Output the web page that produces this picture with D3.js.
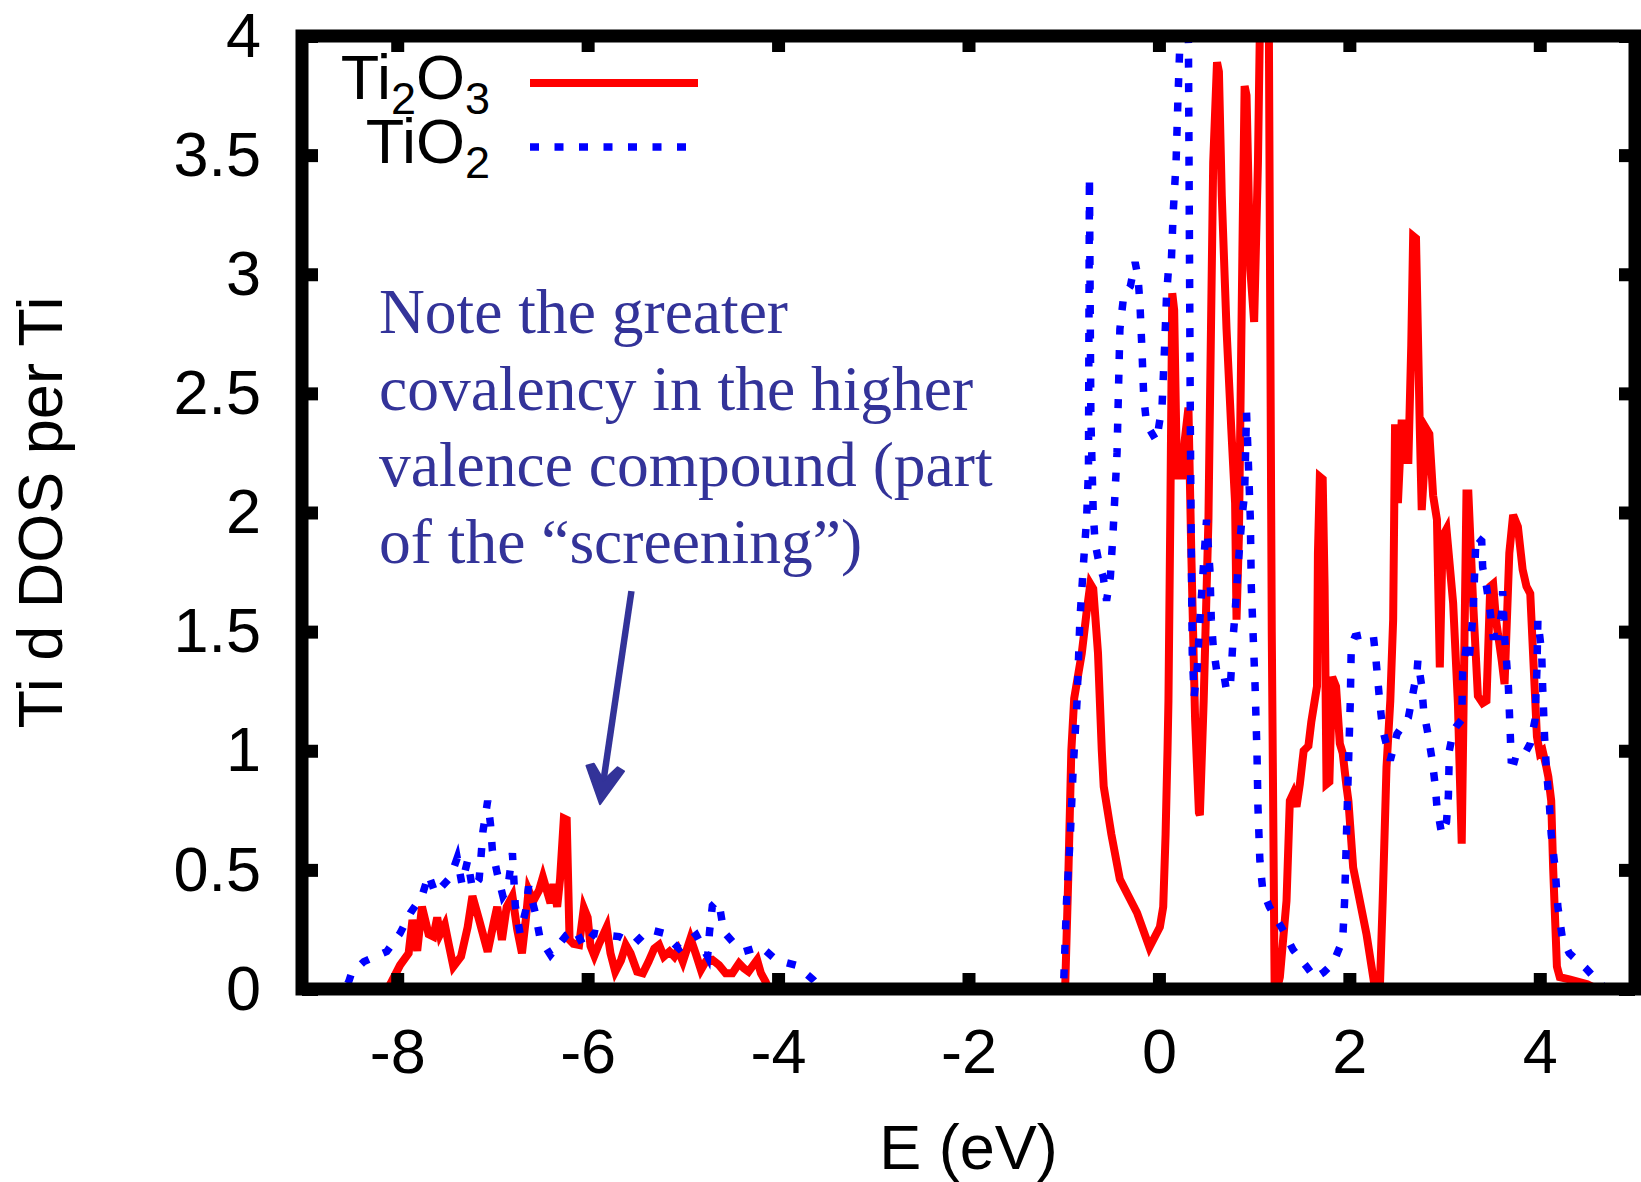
<!DOCTYPE html>
<html>
<head>
<meta charset="utf-8">
<script src="https://cdn.jsdelivr.net/npm/d3@7"></script>
<style>
  html, body { margin: 0; padding: 0; background: #fff; }
  svg { display: block; }
</style>
</head>
<body>
<div id="chart"></div>
<script>
// Ti d DOS per Ti: [E (eV), DOS]
const ti2o3Valence = [
  [-9, 0], [-8.1, 0], [-8.06, 0.03], [-7.97, 0.10], [-7.88, 0.15], [-7.84, 0.29], [-7.79, 0.16],
  [-7.74, 0.345], [-7.67, 0.23], [-7.62, 0.22], [-7.58, 0.30], [-7.55, 0.23], [-7.50, 0.27],
  [-7.46, 0.19], [-7.41, 0.094], [-7.33, 0.136], [-7.26, 0.26], [-7.21, 0.39], [-7.14, 0.29],
  [-7.05, 0.157], [-6.98, 0.29], [-6.95, 0.345], [-6.90, 0.206], [-6.85, 0.345], [-6.79, 0.39],
  [-6.74, 0.25], [-6.69, 0.15], [-6.65, 0.29], [-6.62, 0.415], [-6.57, 0.37], [-6.51, 0.415],
  [-6.47, 0.47], [-6.43, 0.415], [-6.39, 0.36], [-6.36, 0.44], [-6.32, 0.345], [-6.29, 0.46],
  [-6.25, 0.716], [-6.22, 0.71], [-6.19, 0.206], [-6.15, 0.19], [-6.09, 0.185], [-6.04, 0.34],
  [-6.00, 0.30], [-5.97, 0.18], [-5.93, 0.14], [-5.88, 0.19], [-5.80, 0.26], [-5.76, 0.15],
  [-5.71, 0.073], [-5.65, 0.12], [-5.60, 0.185], [-5.55, 0.15], [-5.48, 0.073], [-5.42, 0.066],
  [-5.36, 0.115], [-5.30, 0.17], [-5.25, 0.185], [-5.20, 0.136], [-5.14, 0.157], [-5.09, 0.136],
  [-5.05, 0.164], [-5.00, 0.115], [-4.92, 0.213], [-4.86, 0.143], [-4.81, 0.08], [-4.76, 0.115],
  [-4.69, 0.122], [-4.62, 0.10], [-4.55, 0.066], [-4.48, 0.066], [-4.41, 0.108], [-4.36, 0.087],
  [-4.31, 0.073], [-4.22, 0.122], [-4.18, 0.066], [-4.13, 0.03], [-4.10, 0]
];
const ti2o3Conduction = [
  [-0.985, 0], [-0.95, 0.5], [-0.92, 1.0], [-0.89, 1.22], [-0.81, 1.41], [-0.76, 1.58],
  [-0.72, 1.70], [-0.69, 1.68], [-0.64, 1.41], [-0.60, 1.0], [-0.58, 0.85], [-0.50, 0.65],
  [-0.41, 0.46], [-0.23, 0.32], [-0.10, 0.175], [0.01, 0.26], [0.045, 0.345], [0.07, 0.65],
  [0.09, 1.0], [0.10, 1.21], [0.12, 2.0], [0.14, 2.92], [0.16, 2.85], [0.19, 2.14], [0.22, 2.25],
  [0.24, 2.14], [0.27, 2.30], [0.31, 2.44], [0.34, 1.83], [0.38, 1.13], [0.42, 0.74], [0.43, 0.73],
  [0.47, 1.21], [0.52, 1.97], [0.57, 3.47], [0.61, 3.89], [0.63, 3.85], [0.66, 3.33], [0.71, 2.77],
  [0.76, 2.35], [0.80, 2.04], [0.815, 1.55], [0.84, 1.9], [0.88, 3.2], [0.90, 3.79], [0.92, 3.75],
  [0.96, 3.02], [1.0, 2.80], [1.04, 3.47], [1.07, 4.3], [1.14, 4.3], [1.155, 4.0], [1.185, 1.5],
  [1.215, 0.02], [1.24, 0], [1.27, 0.05], [1.34, 0.37], [1.375, 0.79], [1.41, 0.82], [1.445, 0.765],
  [1.48, 0.86], [1.52, 1.0], [1.57, 1.02], [1.60, 1.12], [1.66, 1.27], [1.67, 1.83], [1.69, 2.15],
  [1.72, 2.14], [1.74, 1.69], [1.76, 0.86], [1.79, 0.87], [1.82, 1.31], [1.86, 1.27], [1.90, 1.03],
  [1.93, 0.99], [1.97, 0.85], [1.99, 0.79], [2.04, 0.51], [2.18, 0.23], [2.27, 0], [2.32, 0],
  [2.35, 0.37], [2.39, 0.93], [2.43, 1.21], [2.46, 1.55], [2.48, 2.37], [2.51, 2.04], [2.55, 2.39],
  [2.56, 2.22], [2.62, 2.22], [2.65, 2.7], [2.67, 3.16], [2.70, 3.15], [2.74, 2.35], [2.76, 2.01],
  [2.81, 2.35], [2.84, 2.33], [2.88, 2.07], [2.92, 1.97], [2.95, 1.35], [2.98, 1.90], [3.02, 1.93],
  [3.09, 1.62], [3.14, 1.20], [3.16, 0.9], [3.18, 0.61], [3.20, 1.2], [3.23, 2.08], [3.25, 2.08],
  [3.30, 1.62], [3.35, 1.23], [3.40, 1.20], [3.44, 1.21], [3.48, 1.69], [3.51, 1.70], [3.54, 1.55],
  [3.60, 1.38], [3.63, 1.28], [3.68, 1.83], [3.72, 1.99], [3.77, 1.94], [3.82, 1.76], [3.86, 1.69],
  [3.90, 1.66], [3.97, 1.06], [4.00, 0.99], [4.03, 1.00], [4.07, 0.93], [4.09, 0.89], [4.12, 0.79],
  [4.14, 0.51], [4.18, 0.094], [4.21, 0.05], [4.31, 0.04], [4.5, 0.02], [4.6, 0], [5, 0]
];
const tio2Valence = [
  [-9, 0], [-8.55, 0], [-8.51, 0.03], [-8.48, 0.066], [-8.35, 0.115], [-8.11, 0.157], [-7.97, 0.234],
  [-7.86, 0.32], [-7.74, 0.39], [-7.67, 0.48], [-7.60, 0.40], [-7.44, 0.47], [-7.37, 0.55],
  [-7.32, 0.44], [-7.26, 0.54], [-7.21, 0.42], [-7.14, 0.46], [-7.12, 0.555], [-7.10, 0.66],
  [-7.05, 0.79], [-7.02, 0.69], [-7.00, 0.58], [-6.95, 0.486], [-6.89, 0.39], [-6.84, 0.42],
  [-6.79, 0.57], [-6.76, 0.35], [-6.71, 0.234], [-6.65, 0.33], [-6.62, 0.43], [-6.55, 0.32],
  [-6.50, 0.213], [-6.39, 0.143], [-6.22, 0.227], [-6.13, 0.25], [-6.04, 0.178], [-5.93, 0.234],
  [-5.84, 0.227], [-5.67, 0.22], [-5.51, 0.19], [-5.36, 0.25], [-5.20, 0.234], [-5.04, 0.17],
  [-4.86, 0.227], [-4.74, 0.136], [-4.72, 0.24], [-4.69, 0.35], [-4.64, 0.37], [-4.62, 0.36],
  [-4.57, 0.24], [-4.46, 0.19], [-4.36, 0.157], [-4.18, 0.178], [-4.02, 0.122], [-3.81, 0.10],
  [-3.63, 0.038], [-3.55, 0]
];
const tio2Conduction = [
  [-1.05, 0], [-1.00, 0.03], [-0.97, 0.37], [-0.93, 0.65], [-0.90, 0.93], [-0.86, 1.21],
  [-0.83, 1.55], [-0.79, 1.80], [-0.76, 1.97], [-0.74, 2.18], [-0.73, 3.41], [-0.715, 2.4],
  [-0.69, 2.0], [-0.67, 1.87], [-0.62, 1.77], [-0.585, 1.73], [-0.55, 1.63], [-0.51, 1.73],
  [-0.48, 1.93], [-0.44, 2.25], [-0.41, 2.77], [-0.37, 2.91], [-0.30, 2.95], [-0.25, 3.05],
  [-0.22, 2.99], [-0.20, 2.88], [-0.18, 2.70], [-0.16, 2.49], [-0.13, 2.37], [-0.025, 2.30],
  [0.01, 2.39], [0.03, 2.42], [0.06, 2.70], [0.08, 2.91], [0.10, 3.02], [0.13, 3.05], [0.15, 3.26],
  [0.18, 3.47], [0.20, 3.74], [0.22, 3.97], [0.25, 4.3], [0.29, 4.3], [0.31, 3.97], [0.33, 2.35],
  [0.34, 1.83], [0.35, 1.41], [0.37, 1.23], [0.40, 1.33], [0.43, 1.55], [0.465, 1.76], [0.50, 1.97],
  [0.535, 1.76], [0.55, 1.55], [0.57, 1.44], [0.605, 1.34], [0.675, 1.34], [0.71, 1.25], [0.75, 1.27],
  [0.78, 1.48], [0.80, 1.58], [0.83, 1.77], [0.87, 1.97], [0.90, 2.08], [0.92, 2.42], [0.94, 2.2],
  [0.96, 1.97], [0.97, 1.69], [0.99, 1.48], [1.01, 1.27], [1.03, 0.99], [1.04, 0.765], [1.06, 0.54],
  [1.09, 0.415], [1.16, 0.345], [1.30, 0.25], [1.41, 0.164], [1.55, 0.094], [1.64, 0.045],
  [1.73, 0.07], [1.83, 0.108], [1.93, 0.206], [1.95, 0.37], [1.97, 0.65], [1.99, 0.93], [2.01, 1.21],
  [2.02, 1.44], [2.06, 1.48], [2.18, 1.49], [2.25, 1.49], [2.28, 1.38], [2.32, 1.20], [2.35, 1.09],
  [2.43, 0.96], [2.50, 1.07], [2.62, 1.14], [2.71, 1.33], [2.72, 1.38], [2.76, 1.27], [2.78, 1.17],
  [2.83, 1.06], [2.87, 0.96], [2.90, 0.86], [2.92, 0.765], [2.97, 0.65], [3.02, 0.70], [3.04, 0.81],
  [3.05, 1.00], [3.09, 1.08], [3.12, 1.10], [3.18, 1.13], [3.19, 1.33], [3.23, 1.44], [3.26, 1.39],
  [3.30, 1.58], [3.32, 1.79], [3.33, 1.90], [3.39, 1.88], [3.40, 1.77], [3.44, 1.69], [3.48, 1.58],
  [3.51, 1.48], [3.56, 1.48], [3.60, 1.58], [3.61, 1.67], [3.63, 1.48], [3.65, 1.38], [3.67, 1.27],
  [3.68, 1.17], [3.69, 1.07], [3.70, 0.96], [3.79, 0.95], [3.90, 1.03], [3.95, 1.13], [3.97, 1.34],
  [3.98, 1.55], [4.02, 1.41], [4.03, 1.27], [4.05, 1.06], [4.07, 0.92], [4.10, 0.78], [4.12, 0.65],
  [4.16, 0.51], [4.19, 0.345], [4.24, 0.206], [4.31, 0.15], [4.48, 0.088], [4.64, 0.02], [4.7, 0], [5, 0]
];

const xTicks = [-8, -6, -4, -2, 0, 2, 4];
const yTicks = [0, 0.5, 1, 1.5, 2, 2.5, 3, 3.5, 4];
const noteLines = [
  'Note the greater',
  'covalency in the higher',
  'valence compound (part',
  'of the \u201cscreening\u201d)'
];
// arrow from the note down to the valence band, in data coords [E, DOS]
const arrowTail = [-5.54, 1.67];
const arrowTip = [-5.87, 0.776];

// Dimensions
const width = 1641;
const height = 1182;
const sansFont = '"Liberation Sans", Arial, sans-serif';
const serifFont = '"Liberation Serif", "Times New Roman", serif';
const noteColor = '#333399';

const svg = d3.select('#chart')
  .append('svg')
    .attr('width', width)
    .attr('height', height)
    .attr('viewBox', `0 0 ${width} ${height}`);

const x = d3.scaleLinear().domain([-9, 5]).range([302, 1635]);
const y = d3.scaleLinear().domain([0, 4]).range([989, 36]);

svg.append('clipPath')
    .attr('id', 'plot-clip')
  .append('rect')
    .attr('x', x(-9))
    .attr('y', y(4))
    .attr('width', x(5) - x(-9))
    .attr('height', y(0) - y(4));

const line = d3.line()
  .x(d => x(d[0]))
  .y(d => y(d[1]));

// Curves: Ti2O3 solid red, TiO2 dashed blue on top
const curves = svg.append('g').attr('clip-path', 'url(#plot-clip)');
curves.append('path')
    .datum(ti2o3Valence.concat(ti2o3Conduction))
    .attr('d', line)
    .attr('fill', 'none')
    .attr('stroke', '#ff0000')
    .attr('stroke-width', 8);
curves.append('path')
    .datum(tio2Valence.concat(tio2Conduction))
    .attr('d', line)
    .attr('fill', 'none')
    .attr('stroke', '#0000ff')
    .attr('stroke-width', 7.5)
    .attr('stroke-dasharray', '9 15.5');

// Axes, ticks pointing inward on all four sides
const tickLen = -16;
const plainNumber = d => String(d); // keep the ASCII hyphen as in the picture
const styleAxis = g => {
  g.select('.domain').remove();
  g.selectAll('.tick line').attr('stroke', '#000').attr('stroke-width', 13);
  g.selectAll('.tick text')
    .attr('font-family', sansFont)
    .attr('font-size', 63)
    .attr('fill', '#000');
};
svg.append('g')
    .attr('transform', `translate(0,${y(0)})`)
    .call(d3.axisBottom(x).tickValues(xTicks).tickSizeInner(tickLen).tickSizeOuter(0).tickPadding(39).tickFormat(plainNumber))
    .call(styleAxis);
svg.append('g')
    .attr('transform', `translate(0,${y(4)})`)
    .call(d3.axisTop(x).tickValues(xTicks).tickSizeInner(tickLen).tickSizeOuter(0).tickFormat(''))
    .call(styleAxis);
svg.append('g')
    .attr('transform', `translate(${x(-9)},0)`)
    .call(d3.axisLeft(y).tickValues(yTicks).tickSizeInner(tickLen).tickSizeOuter(0).tickPadding(41).tickFormat(plainNumber))
    .call(styleAxis);
svg.append('g')
    .attr('transform', `translate(${x(5)},0)`)
    .call(d3.axisRight(y).tickValues(yTicks).tickSizeInner(tickLen).tickSizeOuter(0).tickFormat(''))
    .call(styleAxis);

// Frame
svg.append('rect')
    .attr('x', x(-9))
    .attr('y', y(4))
    .attr('width', x(5) - x(-9))
    .attr('height', y(0) - y(4))
    .attr('fill', 'none')
    .attr('stroke', '#000')
    .attr('stroke-width', 13);

// Axis titles
svg.append('text')
    .attr('x', (x(-9) + x(5)) / 2)
    .attr('y', 1169)
    .attr('text-anchor', 'middle')
    .attr('font-family', sansFont)
    .attr('font-size', 63)
    .text('E (eV)');
svg.append('text')
    .attr('transform', `translate(62,${(y(0) + y(4)) / 2}) rotate(-90)`)
    .attr('text-anchor', 'middle')
    .attr('font-family', sansFont)
    .attr('font-size', 63)
    .text('Ti d DOS per Ti');

// Legend
const legend = svg.append('g').attr('font-family', sansFont).attr('fill', '#000');
const addFormula = (parts, yBase) => {
  const t = legend.append('text')
      .attr('x', 490)
      .attr('y', yBase)
      .attr('text-anchor', 'end')
      .attr('font-size', 63);
  let shifted = false;
  parts.forEach(p => {
    const sub = /^\d$/.test(p);
    const dy = sub && !shifted ? 15 : (!sub && shifted ? -15 : 0);
    shifted = sub;
    t.append('tspan')
        .attr('dy', dy)
        .attr('font-size', sub ? 45 : 63)
        .text(p);
  });
};
addFormula(['Ti', '2', 'O', '3'], 99);
addFormula(['TiO', '2'], 163);
legend.append('line')
    .attr('x1', 530).attr('x2', 698)
    .attr('y1', 83).attr('y2', 83)
    .attr('stroke', '#ff0000')
    .attr('stroke-width', 8);
legend.append('line')
    .attr('x1', 530).attr('x2', 698)
    .attr('y1', 147).attr('y2', 147)
    .attr('stroke', '#0000ff')
    .attr('stroke-width', 7.5)
    .attr('stroke-dasharray', '9 15.5');

// Note and arrow
const note = svg.append('text')
    .attr('font-family', serifFont)
    .attr('font-size', 63.5)
    .attr('fill', noteColor);
noteLines.forEach((s, i) => {
  note.append('tspan')
      .attr('x', 379)
      .attr('y', 333 + i * 76.7)
      .text(s);
});

const tail = [x(arrowTail[0]), y(arrowTail[1])];
const tip = [x(arrowTip[0]), y(arrowTip[1])];
const ang = Math.atan2(tip[1] - tail[1], tip[0] - tail[0]) * 180 / Math.PI - 90;
const shaftLen = Math.hypot(tip[0] - tail[0], tip[1] - tail[1]) - 22;
const arrow = svg.append('g')
    .attr('transform', `translate(${tip[0]},${tip[1]}) rotate(${ang})`)
    .attr('fill', noteColor)
    .attr('stroke', noteColor);
arrow.append('line')
    .attr('x1', 0).attr('y1', -22 - shaftLen)
    .attr('x2', 0).attr('y2', -22)
    .attr('stroke-width', 6.5);
arrow.append('path')
    .attr('d', 'M0,0 L-19,-36 L-12,-39 L0,-24 L12,-39 L19,-36 Z')
    .attr('stroke-width', 2)
    .attr('stroke-linejoin', 'round');
</script>
</body>
</html>
